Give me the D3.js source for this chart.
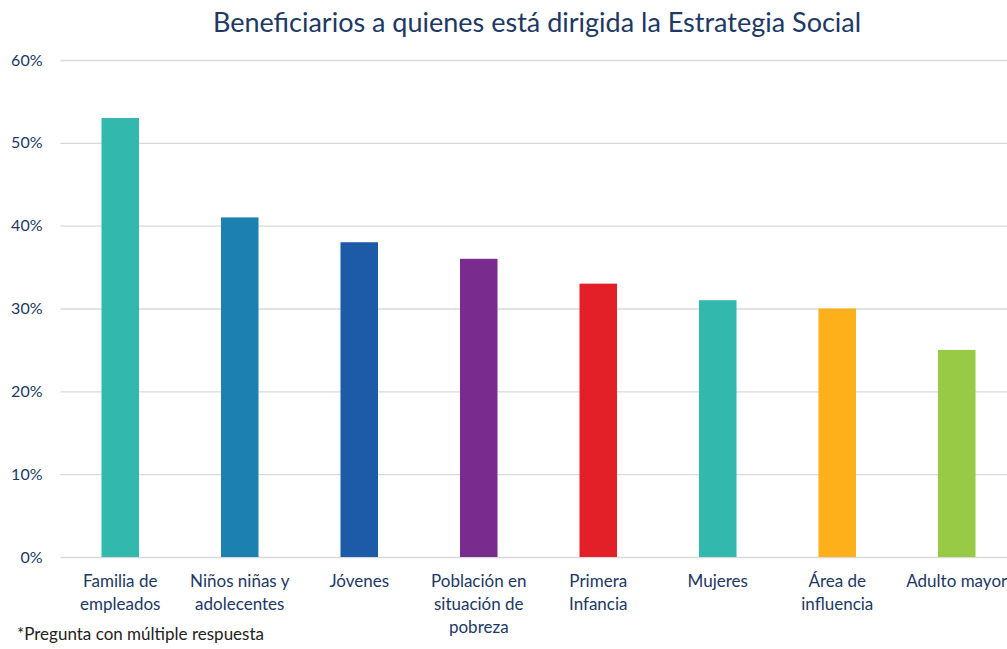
<!DOCTYPE html>
<html lang="es">
<head>
<meta charset="UTF-8">
<title>Beneficiarios</title>
<script src="https://cdn.jsdelivr.net/npm/d3@7"></script>
<style>
  body { margin: 0; background: #fff; }
  svg { display: block; font-family: Lato, "Open Sans", sans-serif; }
</style>
</head>
<body>
<svg></svg>
<script>
// data
var categories = ['Familia de\nempleados', 'Niños niñas y\nadolecentes', 'Jóvenes',
                  'Población en\nsituación de\npobreza', 'Primera\nInfancia', 'Mujeres',
                  'Área de\ninfluencia', 'Adulto mayor'];
var values = [53, 41, 38, 36, 33, 31, 30, 25];
var colors = ['#32b8ad', '#1c80b0', '#1d5ba8', '#7a2b8e', '#e31f28', '#32b8ad', '#fdb01a', '#99ca45'];
var yTicks = [0, 10, 20, 30, 40, 50, 60];
var title = 'Beneficiarios a quienes está dirigida la Estrategia Social';
var note = '*Pregunta con múltiple respuesta';

var W = 1007, H = 649;
var margin = { top: 60, left: 60.5, bottom: 92, right: -9.5 };
var width = W - margin.left - margin.right;
var height = H - margin.top - margin.bottom;
var textColor = '#203864';

var svg = d3.select('svg').attr('width', W).attr('height', H);
var g = svg.append('g')
    .attr('transform', 'translate(' + margin.left + ',' + margin.top + ')');

var x = d3.scaleBand()
    .domain(categories)
    .range([0, width])
    .paddingInner(0.686)
    .paddingOuter(0.343);

var y = d3.scaleLinear()
    .domain([0, 60])
    .range([height, 0]);

// grid + y labels
var yAxis = g.append('g')
    .call(d3.axisLeft(y).tickValues(yTicks).tickSize(-width).tickFormat(function(d) { return d + '%'; }));
yAxis.select('.domain').remove();
yAxis.selectAll('.tick line').attr('stroke', '#d9d9d9').attr('stroke-width', 1.3);
yAxis.selectAll('.tick text')
    .attr('x', -18)
    .attr('fill', textColor)
    .attr('font-size', 16)
    .attr('font-family', 'Lato, sans-serif');

// bars
g.selectAll('.bar')
    .data(values)
    .enter().append('rect')
    .attr('class', 'bar')
    .attr('x', function(d, i) { return x(categories[i]); })
    .attr('y', function(d) { return y(d); })
    .attr('width', x.bandwidth())
    .attr('height', function(d) { return y(0) - y(d); })
    .attr('fill', function(d, i) { return colors[i]; });

// x labels
var xAxis = g.append('g')
    .attr('transform', 'translate(0,' + height + ')')
    .call(d3.axisBottom(x).tickSize(0));
xAxis.select('.domain').remove();
xAxis.selectAll('.tick text').each(function(d) {
    var t = d3.select(this).text(null)
        .attr('fill', textColor)
        .attr('font-size', 17)
        .attr('font-family', 'Lato, sans-serif')
        .attr('y', 0).attr('dy', null);
    d.split('\n').forEach(function(line, k) {
        t.append('tspan').attr('x', 0).attr('y', 30 + k * 23).text(line);
    });
});

// title
svg.append('text')
    .attr('x', 537)
    .attr('y', 32)
    .attr('text-anchor', 'middle')
    .attr('fill', textColor)
    .attr('font-size', 27)
    .text(title);

// footnote
svg.append('text')
    .attr('x', 17)
    .attr('y', 640)
    .attr('fill', '#222')
    .attr('font-size', 17)
    .text(note);
</script>
</body>
</html>
